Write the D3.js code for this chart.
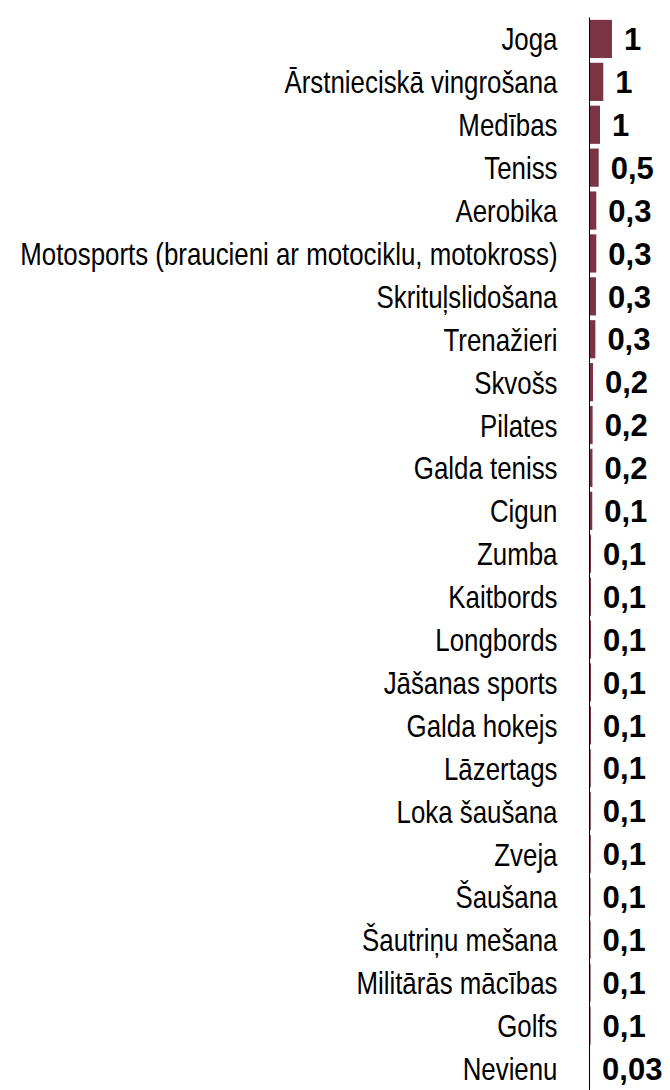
<!DOCTYPE html>
<html>
<head>
<meta charset="utf-8">
<script src="https://cdnjs.cloudflare.com/ajax/libs/d3/7.8.5/d3.min.js"></script>
<style>
  body { margin: 0; background: #fff; }
  .cat { font-family: "Liberation Sans", Arial, sans-serif; font-size: 32px; fill: #000; }
  .val { font-family: "Liberation Sans", Arial, sans-serif; font-size: 31px; font-weight: bold; fill: #000; }
</style>
</head>
<body>
<div class="chart"></div>
<script>
const width = 670;
const height = 1090;

// categories, top to bottom
const sports = ["Joga", "Ārstnieciskā vingrošana", "Medības", "Teniss", "Aerobika",
  "Motosports (braucieni ar motociklu, motokross)", "Skrituļslidošana", "Trenažieri",
  "Skvošs", "Pilates", "Galda teniss", "Cigun", "Zumba", "Kaitbords", "Longbords",
  "Jāšanas sports", "Galda hokejs", "Lāzertags", "Loka šaušana", "Zveja", "Šaušana",
  "Šautriņu mešana", "Militārās mācības", "Golfs", "Nevienu"];
// values
const values = [1.22, 0.75, 0.57, 0.5, 0.37, 0.37, 0.35, 0.32, 0.19, 0.17, 0.16, 0.15,
  0.08, 0.08, 0.08, 0.08, 0.08, 0.07, 0.07, 0.07, 0.06, 0.06, 0.06, 0.06, 0.03];
// data labels as printed
const valueLabels = ["1", "1", "1", "0,5", "0,3", "0,3", "0,3", "0,3", "0,2", "0,2", "0,2",
  "0,1", "0,1", "0,1", "0,1", "0,1", "0,1", "0,1", "0,1", "0,1", "0,1", "0,1", "0,1", "0,1", "0,03"];

const data = sports.map((s, i) => ({ name: s, value: values[i], label: valueLabels[i] }));

const axisX = 589.5;
const labelRight = axisX - 32;

const svg = d3.select(".chart")
  .append("svg")
  .attr("width", width)
  .attr("height", height);

let yScale = d3.scaleBand()
  .domain(sports)
  .range([17.5, 1090])
  .paddingInner(0.11)
  .paddingOuter(0.055);

let xScale = d3.scaleLinear()
  .domain([0, 1])
  .range([axisX, axisX + 18.4]);

svg.selectAll("rect")
  .data(data)
  .enter()
  .append("rect")
  .attr("x", xScale(0))
  .attr("y", d => yScale(d.name))
  .attr("width", d => xScale(d.value) - xScale(0))
  .attr("height", yScale.bandwidth())
  .attr("fill", "#7a3444");

// category labels (narrow font look: squeeze horizontally so the longest one fits)
let cats = svg.selectAll(".cat")
  .data(data)
  .enter()
  .append("text")
  .attr("class", "cat")
  .attr("x", 0)
  .attr("y", 0)
  .attr("dy", "0.36em")
  .attr("text-anchor", "end")
  .text(d => d.name);

let longest = d3.max(cats.nodes(), n => n.getComputedTextLength());
let squeeze = (labelRight - 20) / longest;
cats.attr("transform", d =>
  "translate(" + labelRight + "," + (yScale(d.name) + yScale.bandwidth() / 2) + ") scale(" + squeeze + ",1)");

// value labels
svg.selectAll(".val")
  .data(data)
  .enter()
  .append("text")
  .attr("class", "val")
  .attr("x", d => xScale(d.value) + 12)
  .attr("y", d => yScale(d.name) + yScale.bandwidth() / 2)
  .attr("dy", "0.36em")
  .text(d => d.label);

// vertical axis line
svg.append("line")
  .attr("x1", axisX).attr("x2", axisX)
  .attr("y1", 17.5).attr("y2", height)
  .attr("stroke", "#000")
  .attr("stroke-width", 1);
</script>
</body>
</html>
